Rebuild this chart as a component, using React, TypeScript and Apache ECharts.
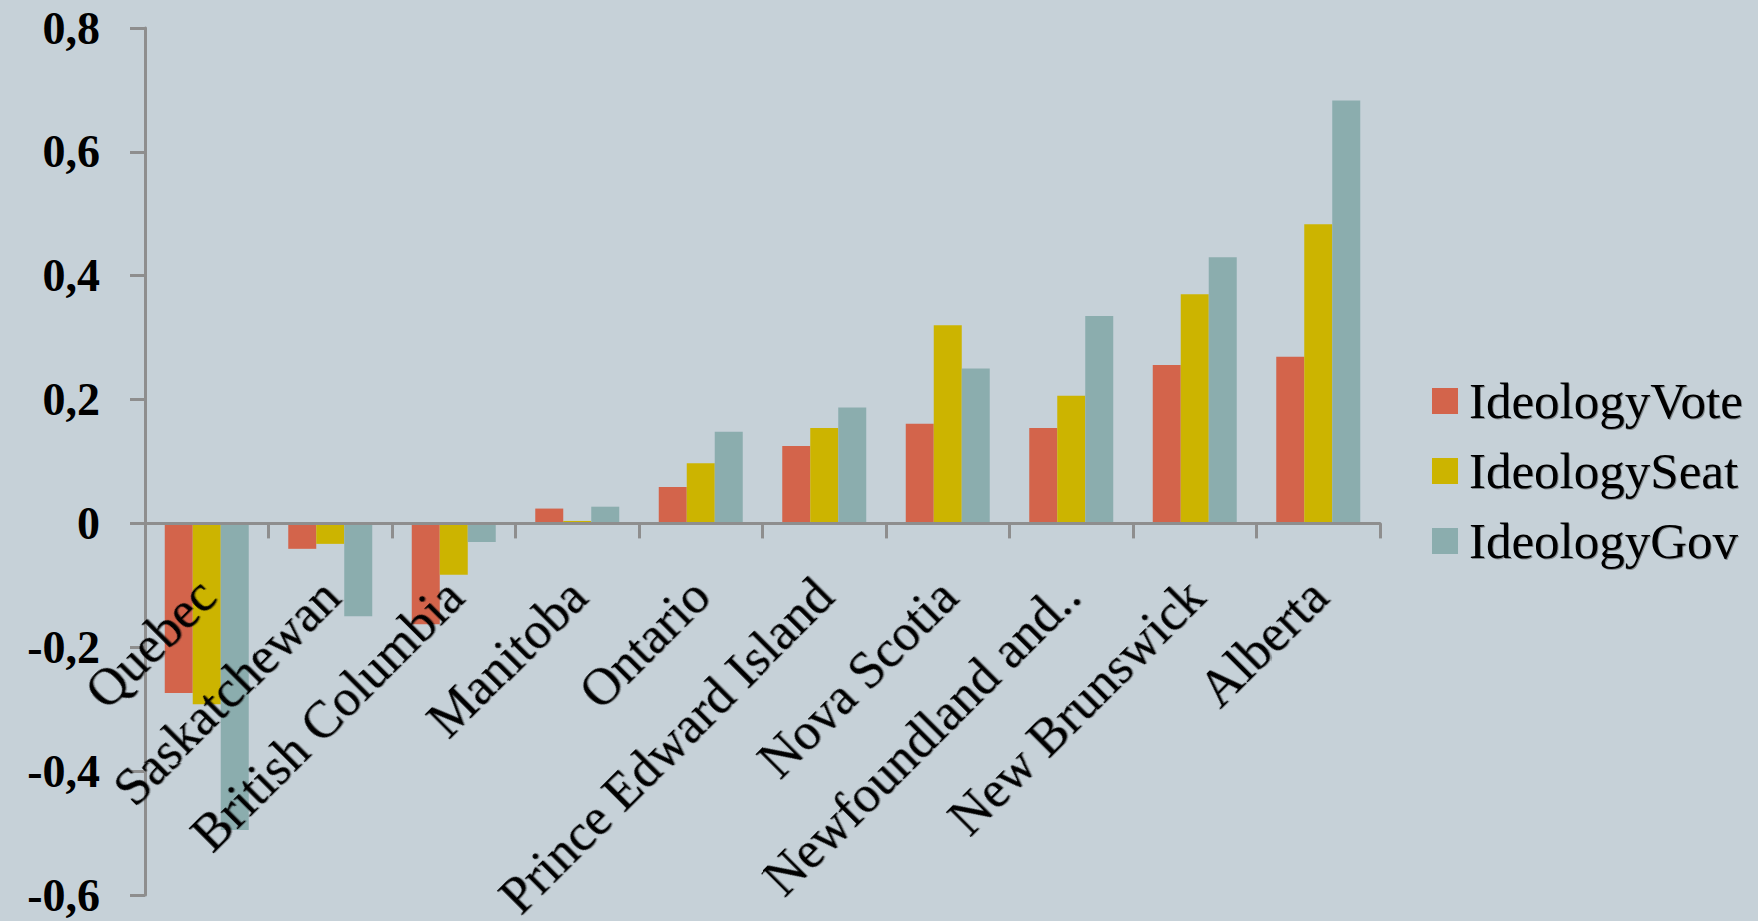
import React, { useEffect, useRef } from "react";
import * as echarts from "echarts";

const categories = [
  "Quebec",
  "Saskatchewan",
  "British Columbia",
  "Manitoba",
  "Ontario",
  "Prince Edward Island",
  "Nova Scotia",
  "Newfoundland and..",
  "New Brunswick",
  "Alberta",
];

const ideologyVote = [-0.274, -0.041, -0.163, 0.024, 0.059, 0.125, 0.161, 0.154, 0.256, 0.269];
const ideologySeat = [-0.292, -0.033, -0.083, 0.004, 0.097, 0.154, 0.32, 0.206, 0.37, 0.483];
const ideologyGov = [-0.495, -0.15, -0.03, 0.027, 0.148, 0.187, 0.25, 0.335, 0.43, 0.683];

const seriesNames = ["IdeologyVote", "IdeologySeat", "IdeologyGov"];
const seriesColors = ["#D3644B", "#CCB400", "#8BADAE"];

const SERIF = "'Liberation Serif', 'Times New Roman', serif";

const Y_MIN = -0.6;
const Y_MAX = 0.8;
const GRID_TOP = 28;
const GRID_BOTTOM = 26;
const H = 921;

const shadow = {
  textShadowColor: "rgba(0,0,0,0.35)",
  textShadowBlur: 1.5,
  textShadowOffsetX: 1,
  textShadowOffsetY: 1,
};

export default function App() {
  const ref = useRef<HTMLDivElement>(null);

  useEffect(() => {
    if (!ref.current) return;
    const chart = echarts.init(ref.current, undefined, { renderer: "svg" });
    const data = [ideologyVote, ideologySeat, ideologyGov];
    const plotH = H - GRID_TOP - GRID_BOTTOM;
    const zeroFromBottom = (plotH * (0 - Y_MIN)) / (Y_MAX - Y_MIN);
    chart.setOption({
      animation: false,
      backgroundColor: "#C6D1D8",
      grid: {
        left: 145,
        right: 378,
        top: GRID_TOP,
        bottom: GRID_BOTTOM,
        containLabel: false,
        outerBoundsMode: "none",
      },
      legend: {
        orient: "vertical",
        left: 1427,
        top: 370,
        itemWidth: 26,
        itemHeight: 26,
        itemGap: 18,
        icon: "rect",
        data: seriesNames,
        textStyle: {
          fontFamily: SERIF,
          fontSize: 51,
          color: "#000",
          lineHeight: 52,
          padding: [0, 0, 0, 6],
          ...shadow,
        },
      },
      xAxis: {
        type: "category",
        data: categories,
        z: 10,
        position: "bottom",
        offset: -zeroFromBottom,
        axisLine: { onZero: false, lineStyle: { color: "#8E8E8E", width: 3 } },
        axisTick: { show: true, length: 15, lineStyle: { color: "#8E8E8E", width: 3 } },
        axisLabel: {
          interval: 0,
          rotate: 45,
          margin: 64,
          fontFamily: SERIF,
          fontSize: 52,
          color: "#000",
          ...shadow,
        },
        splitLine: { show: false },
      },
      yAxis: {
        type: "value",
        min: Y_MIN,
        max: Y_MAX,
        interval: 0.2,
        axisLine: { show: true, lineStyle: { color: "#8E8E8E", width: 3 } },
        axisTick: { show: true, length: 15, lineStyle: { color: "#8E8E8E", width: 3 } },
        splitLine: { show: false },
        axisLabel: {
          margin: 45,
          fontFamily: SERIF,
          fontWeight: "bold",
          fontSize: 46,
          color: "#000",
          formatter: (v: number) =>
            Math.abs(v) < 1e-9 ? "0" : v.toFixed(1).replace(".", ","),
        },
      },
      series: seriesNames.map((name, i) => ({
        name,
        type: "bar",
        data: data[i],
        barGap: "0%",
        barCategoryGap: "32%",
        itemStyle: { color: seriesColors[i] },
      })),
    });
    return () => chart.dispose();
  }, []);

  return (
    <div
      ref={ref}
      style={{ position: "fixed", left: 0, top: 0, width: 1758, height: 921 }}
    />
  );
}
